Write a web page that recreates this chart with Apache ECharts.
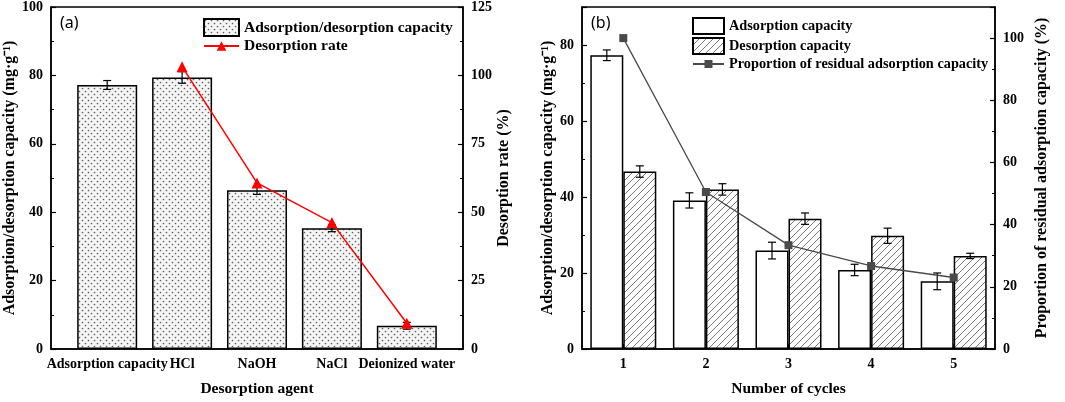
<!DOCTYPE html>
<html><head><meta charset="utf-8">
<script src="https://cdn.jsdelivr.net/npm/echarts@6/dist/echarts.min.js"></script>
<style>html,body{margin:0;padding:0;background:#fff}#c{width:1065px;height:402px}</style>
</head><body><div id="c"></div>
<script>
const categoriesA = ['Adsorption capacity', 'HCl', 'NaOH', 'NaCl', 'Deionized water'];
const capacityA = [77.2, 79.4, 46.4, 35.3, 6.8];
const capacityErrA = [1.3, 1.7, 1.2, 1.0, 1.0];
const rateA = [null, 103.2, 60.7, 46.2, 9.4];
const cyclesB = ['1', '2', '3', '4', '5'];
const adsB = [77.3, 39.1, 25.9, 20.8, 17.8];
const adsErrB = [1.4, 2.0, 2.2, 1.5, 2.2];
const desB = [46.7, 42.0, 34.3, 29.8, 24.5];
const desErrB = [1.5, 1.5, 1.5, 2.0, 0.7];
const residualB = [100, 50.5, 33.4, 26.7, 23.0];

const FONT = "'Liberation Serif','Times New Roman',serif";

function dotPattern() {
  const c = document.createElement('canvas'); c.width = 6; c.height = 6;
  const g = c.getContext('2d');
  g.fillStyle = '#f5f5f5'; g.fillRect(0, 0, 6, 6);
  g.fillStyle = '#5f5f5f';
  [[1.5, 1.5], [4.5, 4.5]].forEach(p => { g.beginPath(); g.arc(p[0], p[1], 0.85, 0, 7); g.fill(); });
  return c;
}
function hatchPattern() {
  const s = 7;
  const c = document.createElement('canvas'); c.width = s; c.height = s;
  const g = c.getContext('2d');
  g.fillStyle = '#fff'; g.fillRect(0, 0, s, s);
  g.strokeStyle = '#555'; g.lineWidth = 0.8;
  g.beginPath();
  g.moveTo(-1, s + 1); g.lineTo(s + 1, -1);
  g.moveTo(-1, 1); g.lineTo(1, -1);
  g.moveTo(s - 1, s + 1); g.lineTo(s + 1, s - 1);
  g.stroke();
  return c;
}
const dots = { image: dotPattern(), repeat: 'repeat' };
const hatch = { image: hatchPattern(), repeat: 'repeat' };

const idx = a => a.map((_, i) => i + 1);
const lbl = { fontFamily: FONT, fontWeight: 'bold', fontSize: 14, color: '#000' };
const nameStyle = { fontFamily: FONT, fontWeight: 'bold', fontSize: 15.5, color: '#000' };
const yNameStyle = { fontFamily: FONT, fontWeight: 'bold', fontSize: 16, color: '#000' };
const legBStyle = { fontFamily: FONT, fontWeight: 'bold', fontSize: 14.3, color: '#000' };
const axLine = { show: true, lineStyle: { color: '#000', width: 1.5 } };
const tick = { show: true, inside: true, length: 5, lineStyle: { color: '#000', width: 1.2 } };
const minor = { show: true, splitNumber: 2, length: 3, lineStyle: { color: '#000', width: 1 } };

function errRender(offset) {
  return function (params, api) {
    const x = api.value(0), y = api.value(1), e = api.value(2);
    const top = api.coord([x, y + e]);
    const bot = api.coord([x, y - e]);
    const cx = top[0] + offset;
    const w = 4;
    const st = { stroke: '#000', lineWidth: 1.2 };
    return {
      type: 'group', children: [
        { type: 'line', shape: { x1: cx, y1: top[1], x2: cx, y2: bot[1] }, style: st },
        { type: 'line', shape: { x1: cx - w, y1: top[1], x2: cx + w, y2: top[1] }, style: st },
        { type: 'line', shape: { x1: cx - w, y1: bot[1], x2: cx + w, y2: bot[1] }, style: st }
      ]
    };
  };
}

const xsA = idx(categoriesA), xsB = idx(cyclesB);

const option = {
  animation: false,
  backgroundColor: '#fff',
  grid: [
    { left: 51, top: 7, width: 412, height: 343, show: true, borderColor: '#000', borderWidth: 1.5 },
    { left: 582, top: 7, width: 413, height: 343, show: true, borderColor: '#000', borderWidth: 1.5 }
  ],
  legend: [
    { left: 203, top: 18, padding: 0, orient: 'vertical', itemWidth: 35, itemHeight: 17, icon: 'rect',
      textStyle: nameStyle, data: ['Adsorption/desorption capacity'] },
    { left: 203, top: 38, padding: 0, orient: 'vertical', itemWidth: 35, itemHeight: 12,
      textStyle: nameStyle, data: ['Desorption rate'] },
    { left: 692, top: 17, padding: 0, orient: 'vertical', itemWidth: 31, itemHeight: 16, itemGap: 2, icon: 'rect',
      textStyle: legBStyle, data: ['Adsorption capacity', 'Desorption capacity'] },
    { left: 692, top: 57, padding: 0, orient: 'vertical', itemWidth: 31, itemHeight: 10,
      textStyle: legBStyle, data: ['Proportion of residual adsorption capacity'] }
  ],
  xAxis: [
    { type: 'value', gridIndex: 0, min: 0.25, max: 5.75,
      axisLine: axLine, splitLine: { show: false },
      axisTick: Object.assign({}, tick, { customValues: xsA }),
      axisLabel: Object.assign({}, lbl, { margin: 8, customValues: xsA, formatter: v => categoriesA[Math.round(v) - 1] || '' }),
      name: 'Desorption agent', nameLocation: 'middle', nameGap: 32, nameTextStyle: nameStyle },
    { type: 'value', gridIndex: 1, min: 0.5, max: 5.5,
      axisLine: axLine, splitLine: { show: false },
      axisTick: Object.assign({}, tick, { customValues: xsB }),
      axisLabel: Object.assign({}, lbl, { margin: 8, customValues: xsB, formatter: v => cyclesB[Math.round(v) - 1] || '' }),
      name: 'Number of cycles', nameLocation: 'middle', nameGap: 32, nameTextStyle: nameStyle }
  ],
  yAxis: [
    { type: 'value', gridIndex: 0, min: 0, max: 100, interval: 20, position: 'left',
      axisLine: axLine, axisTick: tick, minorTick: minor, splitLine: { show: false },
      axisLabel: Object.assign({}, lbl, { margin: 8 }),
      name: 'Adsorption/desorption capacity (mg·g⁻¹)', nameLocation: 'middle', nameGap: 32, nameTextStyle: yNameStyle },
    { type: 'value', gridIndex: 0, min: 0, max: 125, interval: 25, position: 'right',
      axisLine: axLine, axisTick: tick, minorTick: minor, splitLine: { show: false },
      axisLabel: Object.assign({}, lbl, { margin: 8 }),
      name: 'Desorption rate (%)', nameLocation: 'middle', nameGap: 33, nameTextStyle: yNameStyle },
    { type: 'value', gridIndex: 1, min: 0, max: 90, interval: 20, position: 'left',
      axisLine: axLine, axisTick: tick, minorTick: minor, splitLine: { show: false },
      axisLabel: Object.assign({}, lbl, { margin: 8, showMaxLabel: false }),
      name: 'Adsorption/desorption capacity (mg·g⁻¹)', nameLocation: 'middle', nameGap: 21, nameTextStyle: yNameStyle },
    { type: 'value', gridIndex: 1, min: 0, max: 110, interval: 20, position: 'right',
      axisLine: axLine, axisTick: tick, minorTick: minor, splitLine: { show: false },
      axisLabel: Object.assign({}, lbl, { margin: 8, showMaxLabel: false }),
      name: 'Proportion of residual adsorption capacity (%)', nameLocation: 'middle', nameGap: 39, nameTextStyle: yNameStyle }
  ],
  graphic: [
    { type: 'text', left: 60, top: 15, style: { text: '(a)', font: "16px 'Noto Sans', sans-serif", fill: '#000' } },
    { type: 'text', left: 591, top: 15, style: { text: '(b)', font: "16px 'Noto Sans', sans-serif", fill: '#000' } }
  ],
  series: [
    { name: 'Adsorption/desorption capacity', type: 'bar', xAxisIndex: 0, yAxisIndex: 0, barWidth: 60,
      itemStyle: { color: dots, borderColor: '#000', borderWidth: 1.5 },
      data: capacityA.map((v, i) => [xsA[i], v]) },
    { type: 'custom', xAxisIndex: 0, yAxisIndex: 0, z: 5, renderItem: errRender(0), encode: { x: 0, y: 1 },
      data: capacityA.map((v, i) => [xsA[i], v, capacityErrA[i]]) },
    { name: 'Desorption rate', type: 'line', xAxisIndex: 0, yAxisIndex: 1, z: 6,
      symbol: 'triangle', symbolSize: 11,
      lineStyle: { color: '#ff0000', width: 1.5 }, itemStyle: { color: '#ff0000' },
      data: rateA.map((v, i) => [xsA[i], v]).filter(d => d[1] != null) },

    { name: 'Adsorption capacity', type: 'bar', xAxisIndex: 1, yAxisIndex: 2, barWidth: 33, barGap: '0%',
      itemStyle: { color: '#fff', borderColor: '#000', borderWidth: 1.5 },
      data: adsB.map((v, i) => [xsB[i], v]) },
    { name: 'Desorption capacity', type: 'bar', xAxisIndex: 1, yAxisIndex: 2, barWidth: 33, barGap: '0%',
      itemStyle: { color: hatch, borderColor: '#000', borderWidth: 1.5 },
      data: desB.map((v, i) => [xsB[i], v]) },
    { type: 'custom', xAxisIndex: 1, yAxisIndex: 2, z: 5, renderItem: errRender(-16.5), encode: { x: 0, y: 1 },
      data: adsB.map((v, i) => [xsB[i], v, adsErrB[i]]) },
    { type: 'custom', xAxisIndex: 1, yAxisIndex: 2, z: 5, renderItem: errRender(16.5), encode: { x: 0, y: 1 },
      data: desB.map((v, i) => [xsB[i], v, desErrB[i]]) },
    { name: 'Proportion of residual adsorption capacity', type: 'line', xAxisIndex: 1, yAxisIndex: 3, z: 6,
      symbol: 'rect', symbolSize: 8,
      lineStyle: { color: '#4a4a4a', width: 1.3 }, itemStyle: { color: '#4a4a4a' },
      data: residualB.map((v, i) => [xsB[i], v]) }
  ]
};
const chart = echarts.init(document.getElementById('c'), null, { renderer: 'canvas' });
chart.setOption(option);
</script></body></html>
